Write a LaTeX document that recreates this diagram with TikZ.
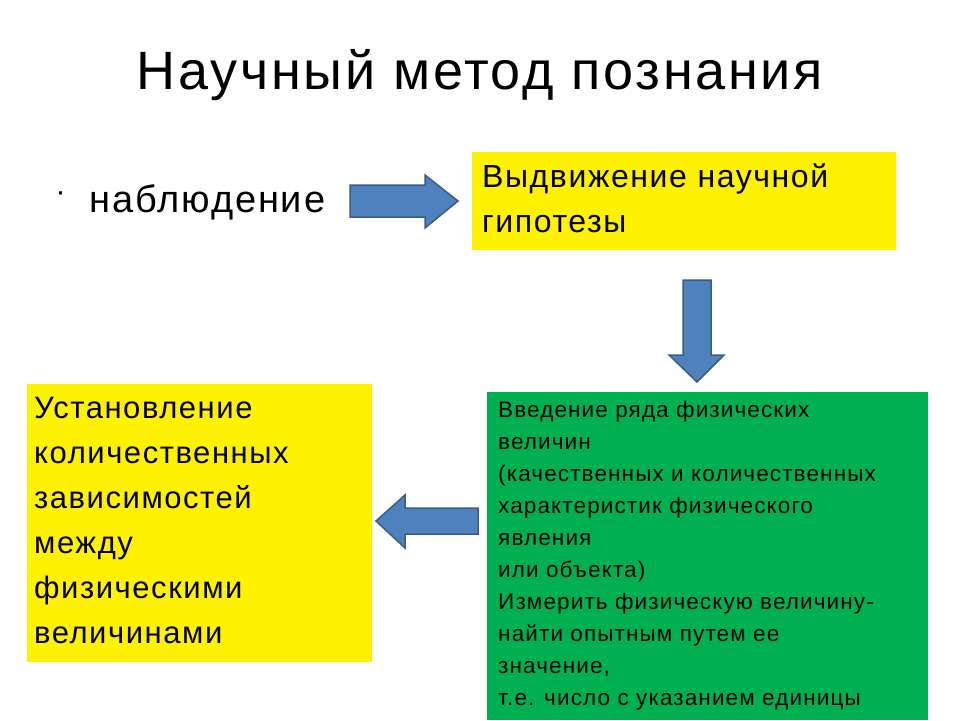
\documentclass[tikz,border=0pt]{standalone}
\usepackage{fontspec}
\setmainfont{Liberation Sans}[LetterSpace=5]
\usetikzlibrary{positioning}
\definecolor{arrowblue}{HTML}{4F81BD}
\definecolor{arrowedge}{HTML}{385D8A}
\definecolor{boxgreen}{HTML}{00B050}
\tikzset{
  blockarrow/.style={fill=arrowblue,draw=arrowedge,line width=1.5pt,line join=miter},
  yellowbox/.style={fill=yellow,draw=none},
  greenbox/.style={fill=boxgreen,draw=none}
}
\begin{document}
\begin{tikzpicture}[x=1pt,y=-1pt]
\useasboundingbox (0,0) rectangle (960,720);
% title
\node (title) at (480,75) {\fontsize{54}{60}\selectfont Научный метод познания};
% observation
\node[anchor=west] (dot) at (52,197) {\fontsize{30}{34}\selectfont ·};
\node[anchor=west] (obs) at (86,202) {\fontsize{38}{44}\selectfont наблюдение};
% boxes
\fill[yellowbox] (472,152) rectangle (896,250);
\node[anchor=north west,align=left,inner sep=0pt,font=\fontsize{32}{45}\selectfont] (hyp) at (482,164)
  {Выдвижение научной\\гипотезы};
\fill[yellowbox] (27,384) rectangle (372,662);
\node[anchor=north west,align=left,inner sep=0pt,font=\fontsize{31}{45}\selectfont] (dep) at (34,397)
  {Установление\\ количественных\\зависимостей\\между\\физическими\\величинами};
\fill[greenbox] (487,392) rectangle (928,720);
\node[anchor=north west,align=left,inner sep=0pt,font=\fontsize{22.5}{32}\selectfont] (intro) at (498,401)
  {Введение ряда физических\\величин\\(качественных и количественных\\характеристик физического\\явления\\или объекта)\\Измерить физическую величину-\\найти опытным путем ее\\значение,\\т.е. число с указанием единицы};
% arrows
\draw[blockarrow] (350,185) -- (425,185) -- (425,175) -- (458,201) -- (425,228) -- (425,217) -- (350,217) -- cycle;
\draw[blockarrow] (683,280) -- (711,280) -- (711,355) -- (724,355) -- (697,382) -- (669,355) -- (683,355) -- cycle;
\draw[blockarrow] (478,508) -- (405,508) -- (405,495) -- (376,521) -- (405,548) -- (405,534) -- (478,534) -- cycle;
\end{tikzpicture}
\end{document}
